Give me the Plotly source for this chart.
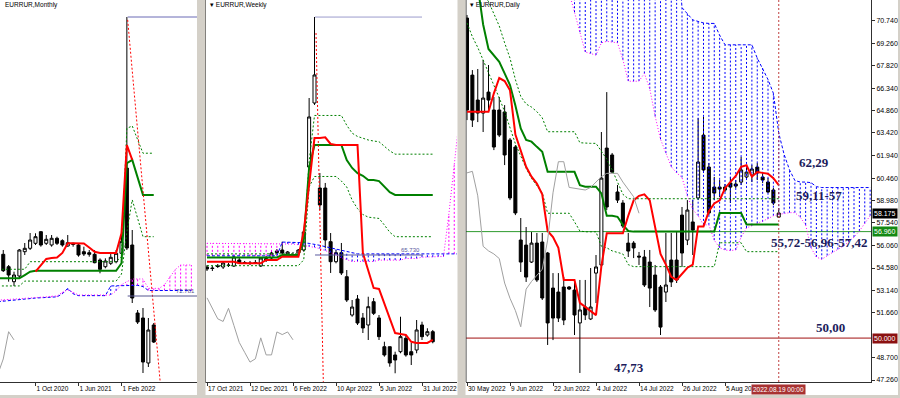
import plotly.graph_objects as go

# ======================= DATA =======================
# ---------- Monthly (bar index 0 = Feb 2020) ----------
m_idx = list(range(2, 31))
m_open = [86.54, 82.45, 77.50, 79.38, 87.40, 88.52, 90.17, 94.00, 90.17, 89.61, 91.82, 91.03, 89.28, 90.17, 89.61,
          87.40, 87.07, 86.54, 84.66, 82.45, 83.57, 84.10, 86.87, 115.0, 89.61, 67.17, 65.52, 50.67, 63.21]
m_high = [87.96, 83.01, 80.80, 88.29, 90.27, 93.57, 93.47, 94.23, 92.90, 92.90, 92.35, 91.49, 92.90, 90.37, 90.17,
          89.05, 87.96, 87.96, 85.22, 85.22, 86.64, 87.96, 94.00, 164.85, 94.56, 68.16, 68.82, 65.52, 63.87]
m_low = [80.70, 77.50, 76.08, 78.72, 86.31, 87.96, 89.61, 89.05, 89.61, 89.05, 89.61, 89.05, 89.05, 89.05, 85.75,
         85.98, 85.75, 83.57, 80.27, 81.92, 83.01, 83.57, 85.22, 87.96, 70.47, 63.54, 47.37, 49.35, 57.27]
m_close = [81.13, 79.71, 79.71, 87.96, 88.52, 91.26, 92.35, 89.61, 91.49, 91.82, 90.17, 89.61, 90.37, 89.84, 86.31,
           86.64, 86.54, 83.77, 81.59, 84.33, 85.55, 86.87, 90.70, 88.62, 72.12, 64.20, 51.00, 61.56, 57.60]
m_tenkan_idx = list(range(8, 27))
m_tenkan = [80.8, 83.0, 85.0, 85.3, 85.5, 87.0, 90.2, 90.2, 90.2, 90.1, 88.8, 87.4, 87.0, 87.0, 86.9, 87.0, 93.5,
            122.6, 117.7]
m_line_idx = list(range(1, 31))
m_kijun = [78.6, 78.6, 78.6, 78.6, 78.6, 79.7, 80.8, 81.1, 81.1, 81.1, 81.1, 81.1, 81.1, 81.1, 81.1, 81.1, 81.1,
           81.1, 81.1, 81.1, 81.1, 81.1, 81.1, 83.6, 116.6, 117.7, 112.0, 106.1, 106.1, 106.1]
m_dot_up = [81.6, 81.6, 81.6, 81.6, 81.6, 81.6, 84.1, 84.1, 84.1, 84.1, 84.1, 84.1, 84.1, 84.1, 84.1, 84.1, 84.1,
            84.1, 84.1, 84.1, 84.1, 84.1, 84.1, 85.8, 128.1, 128.9, 124.4, 119.9, 119.9, 119.9]
m_dot_dn = [76.1, 76.1, 76.1, 76.1, 76.1, 77.7, 77.7, 77.7, 77.7, 77.7, 77.7, 77.7, 77.7, 77.7, 77.7, 77.7, 77.7,
            77.7, 77.7, 77.7, 77.7, 77.7, 77.7, 80.0, 94.0, 104.5, 98.4, 92.35, 92.35, 92.35]
m_chikou_idx = [1, 2, 3, 4]
m_chikou = [47.0, 52.0, 61.0, 58.3]
m_cloud_idx = list(range(1, 38))
m_span_blue = [70.9, 71.1, 71.3, 71.5, 71.7, 71.9, 72.0, 72.1, 72.2, 72.3, 72.4, 72.5, 73.5, 75.3, 73.5, 72.9, 72.9,
               72.9, 72.9, 72.9, 72.9, 76.1, 76.1, 76.1, 76.1, 76.1, 76.3, 75.9, 74.6, 74.6, 74.6, 74.6, 74.6, 74.6,
               74.6, 74.6, 74.6]
m_span_pink = [71.4, 71.5, 71.6, 71.7, 71.8, 71.9, 72.0, 72.1, 72.3, 72.5, 72.7, 72.8, 74.0, 74.8, 74.0, 73.1, 73.1,
               73.1, 73.1, 73.1, 73.1, 73.1, 74.5, 76.5, 77.5, 78.4, 78.4, 78.4, 75.3, 75.3, 75.3, 76.5, 79.2, 81.5,
               83.0, 83.0, 83.0]
m_extreme_start, m_extreme = 25.15, 164.85
m_level_start, m_level = 25.15, 72.781
m_trend_x = [25.15, 31.2]
m_trend_y = [163.9, 44.4]
m_tick_vals = [8, 16, 24]
m_tick_text = ["1 Oct 2020", "1 Jun 2021", "1 Feb 2022"]
m_first_tick = (0, "1 Feb 2020")

# ---------- Weekly (bar index 0 = 17 Oct 2021) ----------
w_idx = list(range(0, 43))
w_open = [63.90, 63.75, 64.05, 63.90, 64.21, 64.05, 64.97, 64.59, 64.51, 64.59, 64.05, 64.89, 65.27, 66.34, 66.49,
          65.88, 65.73, 66.03, 66.49, 79.14, 88.90, 75.94, 75.94, 67.76, 64.71, 66.08, 62.42, 56.58, 59.02, 56.13,
          55.06, 58.61, 56.13, 51.75, 51.75, 50.49, 50.99, 53.03, 50.99, 51.25, 55.06, 53.53, 54.04]
w_high = [64.21, 64.05, 64.36, 64.66, 64.51, 65.58, 65.27, 64.82, 64.82, 64.97, 65.43, 65.58, 66.34, 66.64, 67.76,
          66.34, 66.19, 66.64, 69.28, 89.66, 102.01, 78.23, 76.71, 69.08, 66.49, 67.56, 63.44, 58.87, 59.63, 56.89,
          59.37, 59.17, 56.58, 52.51, 51.75, 50.99, 56.32, 53.53, 52.32, 55.82, 55.56, 54.56, 54.30]
w_low = [63.29, 63.29, 63.75, 63.60, 63.90, 63.90, 64.36, 64.36, 64.21, 64.36, 63.90, 64.66, 65.12, 65.88, 65.88,
         65.58, 65.43, 65.73, 66.23, 78.69, 88.60, 72.59, 66.80, 62.99, 64.46, 62.68, 58.57, 56.32, 55.06, 53.84,
         52.77, 56.58, 52.77, 50.23, 48.70, 47.70, 50.75, 50.23, 48.96, 50.75, 52.77, 53.28, 52.27]
w_close = [63.60, 63.67, 63.98, 64.51, 64.13, 65.43, 64.51, 64.51, 64.43, 64.51, 65.27, 65.20, 66.03, 66.11, 66.03,
           66.19, 65.65, 66.49, 69.24, 86.77, 93.17, 73.35, 68.02, 64.71, 66.08, 62.99, 58.87, 57.80, 55.36, 54.60,
           57.85, 56.84, 53.28, 50.49, 49.27, 49.72, 53.28, 50.49, 50.49, 54.30, 53.28, 54.04, 52.51]
w_tenkan = [64.71, 64.71, 64.71, 64.71, 64.71, 64.71, 64.46, 64.46, 64.46, 64.46, 64.46, 64.97, 64.97, 64.97, 65.47,
            65.47, 65.47, 65.47, 69.3, 76.1, 83.57, 83.57, 83.67, 82.65, 82.5, 82.5, 82.5, 82.5, 82.5, 66.03, 63.44,
            60.7, 60.55, 58.3, 56.1, 53.84, 53.7, 53.55, 52.5, 52.32, 52.32, 52.32, 52.8]
w_kijun = [65.35, 65.35, 65.35, 65.35, 65.35, 65.35, 65.35, 65.35, 65.35, 65.35, 65.35, 65.35, 65.35, 65.35, 65.73,
           65.73, 65.73, 65.73, 68.0, 79.1, 82.5, 82.5, 82.5, 82.5, 82.5, 82.5, 80.2, 79.0, 78.2, 77.8, 77.16, 77.16,
           77.0, 76.1, 75.3, 74.88, 74.88, 74.88, 74.88, 74.88, 74.88, 74.88, 74.88]
w_dot_up = [65.9, 65.9, 65.9, 65.9, 65.9, 65.9, 65.9, 65.9, 65.9, 65.9, 65.9, 65.9, 65.9, 65.9, 65.9, 65.9, 65.9,
            65.9, 67.0, 80.0, 87.0, 87.0, 87.0, 87.0, 87.0, 87.0, 85.5, 84.3, 83.8, 83.5, 83.26, 83.1, 83.0, 82.3,
            81.6, 81.1, 81.1, 81.1, 81.1, 81.1, 81.1, 81.1, 81.1]
w_dot_dn = [64.1, 64.1, 64.1, 64.1, 64.1, 64.1, 64.1, 64.1, 64.1, 64.1, 64.1, 64.1, 64.1, 64.1, 64.1, 64.1, 64.1,
            64.1, 65.0, 76.1, 77.7, 77.7, 77.7, 77.7, 77.7, 77.0, 76.1, 74.1, 72.8, 71.9, 71.5, 71.4, 71.3, 70.3,
            69.2, 68.52, 68.52, 68.52, 68.52, 68.52, 68.52, 68.52, 68.52]
w_chikou_idx = list(range(0, 17))
w_chikou = [59.2, 57.6, 56.0, 55.6, 57.6, 55.0, 52.4, 50.9, 49.4, 49.9, 53.1, 50.5, 50.5, 54.0, 53.6, 54.0, 52.8]
w_cloud_idx = list(range(0, 48))
w_span_pink = [67.51, 67.51, 67.51, 67.51, 67.51, 67.51, 67.51, 67.51, 67.51, 67.51, 67.51, 67.51, 67.51, 67.51,
               67.51, 67.45, 67.4, 67.3, 67.2, 67.0, 66.9, 66.7, 66.4, 66.1, 65.8, 65.3, 65.0, 64.75, 64.75, 64.75,
               64.75, 64.75, 64.95, 64.95, 64.95, 64.95, 64.95, 65.2, 65.2, 65.2, 65.4, 65.4, 65.4, 65.45, 65.5, 72.0,
               79.5, 87.0]
w_span_blue = [65.6, 65.6, 65.6, 65.6, 65.6, 65.6, 65.6, 65.6, 65.6, 65.6, 65.6, 65.6, 65.6, 65.6, 67.7, 67.7, 67.7,
               67.7, 67.6, 67.5, 67.4, 67.2, 67.0, 66.8, 66.6, 66.4, 66.2, 66.0, 65.9, 65.9, 65.9, 65.9, 65.9, 65.9,
               65.9, 65.9, 65.9, 65.9, 65.9, 65.9, 65.9, 65.9, 65.9, 65.9, 65.9, 65.9, 65.9, 65.9]
w_extreme_start, w_extreme_end, w_extreme = 20.1, 40.0, 102.0
w_level_start, w_level_end, w_level = 20.1, 40.2, 65.73
w_trend_x = [20.28, 21.64]
w_trend_y = [99.57, 46.4]
w_tick_vals = [0, 8, 16, 24, 32, 40]
w_tick_text = ["17 Oct 2021", "12 Dec 2021", "6 Feb 2022", "10 Apr 2022", "5 Jun 2022", "31 Jul 2022"]

# ---------- Daily (bar index 0 = 30 May 2022) ----------
d_idx = list(range(0, 59))
d_open = [70.92, 67.19, 65.56, 64.71, 66.08, 64.91, 64.91, 64.78, 62.95, 62.49, 56.41, 56.08, 54.97, 56.21, 56.28,
          55.56, 53.27, 53.01, 53.34, 53.34, 53.14, 50.99, 52.03, 51.25, 54.25, 54.78, 62.42, 61.97, 59.55, 58.83,
          56.21, 56.21, 55.36, 55.30, 54.97, 54.12, 53.34, 53.01, 55.10, 55.10, 58.04, 56.41, 57.59, 59.16, 63.27,
          61.18, 59.87, 59.87, 59.87, 60.14, 60.07, 60.20, 60.53, 60.66, 61.18, 60.53, 60.20, 59.68, 57.91]
d_high = [71.12, 67.52, 67.59, 68.18, 67.85, 65.76, 65.76, 65.23, 63.08, 62.62, 57.85, 57.26, 56.93, 56.87, 56.87,
          55.63, 54.25, 54.25, 53.99, 53.40, 53.80, 53.80, 53.80, 54.58, 55.43, 63.47, 66.08, 62.10, 60.01, 59.02,
          56.87, 56.34, 55.63, 55.76, 55.76, 54.78, 53.47, 56.87, 56.87, 56.93, 58.57, 59.02, 59.02, 64.38, 64.45,
          61.44, 60.53, 60.33, 60.07, 60.53, 60.33, 61.84, 61.18, 61.31, 61.44, 60.79, 60.46, 59.81, 58.50]
d_low = [64.25, 63.80, 64.12, 63.47, 64.91, 62.29, 63.14, 61.31, 59.02, 58.04, 54.32, 53.67, 54.91, 53.67, 52.49,
         49.55, 49.87, 51.05, 50.85, 53.14, 50.20, 47.72, 51.18, 51.18, 52.29, 54.65, 58.37, 60.79, 58.83, 57.19,
         55.30, 55.23, 54.78, 53.34, 52.03, 51.71, 50.20, 52.36, 53.34, 53.60, 54.65, 56.08, 55.43, 59.02, 60.79,
         58.04, 59.02, 59.22, 59.55, 58.83, 59.81, 60.01, 60.33, 60.20, 60.33, 60.14, 59.48, 58.70, 57.85]
d_close = [64.91, 64.25, 64.71, 65.69, 65.56, 62.49, 63.27, 61.97, 59.16, 58.18, 54.97, 53.99, 56.21, 53.80, 52.62,
           50.99, 51.31, 51.31, 51.18, 53.21, 51.51, 51.84, 51.51, 52.03, 54.65, 60.46, 58.57, 60.85, 59.02, 57.33,
           55.69, 55.89, 55.30, 53.47, 53.27, 51.84, 50.72, 53.47, 53.67, 53.80, 55.56, 58.37, 57.06, 61.51, 60.99,
           58.18, 59.48, 59.74, 59.68, 59.87, 59.94, 60.99, 60.85, 61.05, 60.79, 60.33, 59.55, 58.83, 58.175]
d_tenkan = [64.8, 64.8, 64.8, 64.8, 64.8, 66.0, 67.0, 66.8, 66.2, 63.3, 62.2, 61.2, 60.55, 60.1, 59.4, 57.0, 56.6,
            55.9, 53.8, 53.8, 53.8, 52.3, 52.05, 51.8, 51.5, 54.7, 56.85, 56.85, 56.85, 56.85, 58.0, 59.0, 59.3,
            59.4, 59.0, 57.3, 55.5, 54.8, 54.0, 53.8, 54.2, 54.6, 54.8, 57.3, 57.3, 58.3, 58.8, 59.0, 59.8, 60.2,
            60.6, 61.2, 61.3, 60.55, 60.85, 60.8, 60.75, 60.45, 60.0]
d_kijun = [73.5, 73.0, 73.0, 70.5, 68.9, 68.5, 68.06, 67.3, 66.54, 65.2, 63.7, 62.95, 62.84, 62.5, 62.18, 60.87,
           60.87, 60.87, 60.87, 60.87, 60.87, 60.0, 59.9, 59.9, 59.9, 59.46, 58.0, 58.0, 57.93, 57.4, 57.0, 56.96,
           56.96, 56.96, 56.96, 56.96, 56.96, 56.96, 56.96, 56.96, 56.96, 56.96, 56.96, 56.96, 56.96, 56.96, 56.96,
           58.17, 58.17, 58.17, 58.17, 58.17, 57.42, 57.42, 57.42, 57.42, 57.42, 57.42, 57.42]
d_dot_up = [74.0, 73.5, 73.0, 72.5, 72.0, 71.2, 70.4, 69.3, 68.3, 66.9, 65.8, 65.3, 65.1, 64.8, 64.4, 63.49, 63.49,
            63.49, 63.49, 63.49, 63.49, 62.77, 62.73, 62.73, 62.73, 62.2, 61.7, 61.0, 60.2, 59.4, 59.11, 59.11,
            59.11, 59.11, 59.11, 59.11, 59.11, 59.11, 59.11, 59.11, 59.11, 59.11, 59.11, 59.11, 59.11, 59.11, 59.11,
            59.11, 59.11, 59.11, 59.11, 59.11, 59.11, 59.11, 59.11, 59.11, 59.11, 59.11, 59.11]
d_dot_dn = [70.6, 69.7, 69.0, 68.2, 67.3, 66.5, 65.7, 64.8, 63.7, 62.7, 61.9, 61.1, 60.44, 60.0, 59.5, 58.16, 58.16,
            58.16, 58.16, 58.16, 57.6, 57.0, 56.95, 56.95, 56.95, 56.0, 55.9, 55.7, 55.6, 55.5, 54.8, 54.67, 54.67,
            54.67, 54.67, 54.67, 54.67, 54.67, 54.67, 54.67, 54.67, 54.67, 54.67, 54.67, 54.67, 54.67, 54.67, 56.23,
            56.23, 56.23, 56.23, 56.23, 55.65, 55.65, 55.65, 55.65, 55.65, 55.65, 55.65]
d_chikou_idx = list(range(0, 33))
d_chikou = [60.8, 60.9, 59.3, 56.0, 55.7, 55.5, 55.2, 53.6, 52.6, 51.8, 50.74, 53.2, 53.7, 54.1, 54.5, 56.4, 59.5,
            61.53, 61.53, 59.85, 59.79, 59.7, 59.68, 59.85, 60.2, 60.55, 60.77, 60.77, 60.77, 60.2, 59.7, 59.24, 58.16]
d_cloud_idx = list(range(19, 76))
d_span_pink = [72.6, 71.3, 70.0, 68.7, 68.6, 68.5, 69.3, 69.4, 69.35, 69.3, 68.2, 66.8, 66.78, 66.8, 67.3, 66.3,
               64.5, 63.0, 62.1, 61.2, 60.8, 60.5, 59.3, 58.4, 58.0, 57.4, 57.4, 56.4, 55.9, 55.76, 55.72, 55.76,
               56.6, 57.2, 57.35, 57.5, 57.6, 57.8, 58.0, 58.1, 58.15, 58.2, 58.2, 57.9, 57.4, 55.9, 55.3, 55.15,
               55.4, 55.6, 55.8, 56.0, 56.3, 56.6, 57.0, 57.5, 58.0]
d_span_blue = [76.0, 76.0, 76.0, 76.0, 76.0, 76.0, 76.0, 76.0, 76.0, 76.0, 76.0, 76.0, 76.0, 76.0, 76.0, 76.0, 76.0,
               76.0, 76.0, 76.0, 76.0, 71.6, 71.2, 70.8, 70.7, 70.6, 70.57, 70.57, 69.8, 69.17, 69.17, 69.17, 69.17,
               69.17, 69.17, 68.3, 67.65, 66.9, 66.0, 63.4, 62.0, 61.0, 60.3, 60.2, 60.2, 60.16, 59.9, 59.84, 59.84,
               59.84, 59.84, 59.84, 59.84, 59.84, 59.84, 59.84, 59.84]
d_support_green = 56.96
d_support_red = 50.0
d_last_price = 58.175
d_cursor_idx = 58
d_cursor_label = "2022.08.19 00:00"
d_tick_vals = [0, 8, 16, 24, 32, 40, 48]
d_tick_text = ["30 May 2022", "9 Jun 2022", "22 Jun 2022", "4 Jul 2022", "14 Jul 2022", "26 Jul 2022", "5 Aug 2022"]
d_price_ticks = [70.74, 69.26, 67.82, 66.34, 64.86, 63.42, 61.94, 60.46, 58.98, 57.54, 56.06, 54.58, 53.14,
                 51.66, 48.70, 47.26]
# text labels (label, bar index, price)
d_notes = [("62,29", 64.5, 61.48), ("59,11-57", 65.5, 59.29), ("55,72-56,96-57,42", 65.4, 56.28),
           ("50,00", 67.6, 50.69), ("47,73", 30.05, 48.11)]

# ======================= FIGURE =======================
W, H = 900, 398
PLOT_BOTTOM = 382
SANS = "Liberation Sans"
RED, GREEN, GRAY = "#ff0000", "#008000", "#a0a0a0"
BLUE, PINK = "#0000ff", "#ff00ff"

fig = go.Figure()


def line(xa, ya, x, y, color, width=1, dash="solid"):
    fig.add_trace(go.Scatter(x=x, y=y, mode="lines", xaxis=xa, yaxis=ya, hoverinfo="skip", showlegend=False,
                             line=dict(color=color, width=width, dash=dash)))


def cloud(xa, ya, idx, blue, pink):
    bx, by, px_, py_ = [], [], [], []
    for i, b, p in zip(idx, blue, pink):
        lo, hi = min(b, p), max(b, p)
        if b >= p:
            bx += [i, i, None]; by += [lo, hi, None]
        else:
            px_ += [i, i, None]; py_ += [lo, hi, None]
    line(xa, ya, bx, by, BLUE, 1, "2px,2px")
    line(xa, ya, px_, py_, PINK, 1, "2px,2px")
    line(xa, ya, idx, blue, BLUE, 1, "3px,2px")
    line(xa, ya, idx, pink, PINK, 1, "1px,2px")


def candles(xa, ya, x, o, h, l, c):
    fig.add_trace(go.Candlestick(x=x, open=o, high=h, low=l, close=c, xaxis=xa, yaxis=ya,
                                 increasing=dict(line=dict(color="black", width=1), fillcolor="white"),
                                 decreasing=dict(line=dict(color="black", width=1), fillcolor="black"),
                                 whiskerwidth=0, hoverinfo="skip", showlegend=False))


# Monthly
cloud("x", "y", m_cloud_idx, m_span_blue, m_span_pink)
candles("x", "y", m_idx, m_open, m_high, m_low, m_close)
line("x", "y", m_line_idx, m_dot_up, GREEN, 1, "2px,2px")
line("x", "y", m_line_idx, m_dot_dn, GREEN, 1, "2px,2px")
line("x", "y", m_line_idx, m_kijun, GREEN, 2)
line("x", "y", m_tenkan_idx, m_tenkan, RED, 2)
line("x", "y", m_chikou_idx, m_chikou, GRAY, 1)
line("x", "y", m_trend_x, m_trend_y, RED, 1, "2px,2px")
line("x", "y", [m_extreme_start, 40], [m_extreme, m_extreme], "#6b6bb5", 1)
line("x", "y", [m_level_start, 40], [m_level, m_level], "#55558f", 1)

# Weekly
cloud("x2", "y2", w_cloud_idx, w_span_blue, w_span_pink)
candles("x2", "y2", w_idx, w_open, w_high, w_low, w_close)
line("x2", "y2", w_idx, w_dot_up, GREEN, 1, "2px,2px")
line("x2", "y2", w_idx, w_dot_dn, GREEN, 1, "2px,2px")
line("x2", "y2", w_idx, w_kijun, GREEN, 2)
line("x2", "y2", w_idx, w_tenkan, RED, 2)
line("x2", "y2", w_chikou_idx, w_chikou, GRAY, 1)
line("x2", "y2", w_trend_x, w_trend_y, RED, 1, "2px,2px")
line("x2", "y2", [w_extreme_start, w_extreme_end], [w_extreme, w_extreme], "#9b9bcc", 1)
line("x2", "y2", [w_level_start, w_level_end], [w_level, w_level], "#5a5a9e", 1)

# Daily
cloud("x3", "y3", d_cloud_idx, d_span_blue, d_span_pink)
candles("x3", "y3", d_idx, d_open, d_high, d_low, d_close)
line("x3", "y3", d_idx, d_dot_up, GREEN, 1, "2px,2px")
line("x3", "y3", d_idx, d_dot_dn, GREEN, 1, "2px,2px")
line("x3", "y3", d_idx, d_kijun, GREEN, 2)
line("x3", "y3", d_idx, d_tenkan, RED, 2)
line("x3", "y3", d_chikou_idx, d_chikou, GRAY, 1)

ydom = [(H - PLOT_BOTTOM) / H, 1]
xcommon = dict(showgrid=False, zeroline=False, showline=True, linecolor="#303030", linewidth=1,
               ticks="outside", ticklen=3, tickcolor="#303030", ticklabelposition="outside right",
               tickangle=0, tickfont=dict(family=SANS, size=6.5, color="black"),
               rangeslider=dict(visible=False))
fig.update_layout(
    width=W, height=H, margin=dict(l=0, r=0, t=0, b=0),
    paper_bgcolor="white", plot_bgcolor="white", showlegend=False,
    boxgap=0.2, boxgroupgap=0.3,
    xaxis=dict(domain=[0, 197 / W], range=[1.395, 38.05], tickvals=m_tick_vals, ticktext=m_tick_text,
               anchor="y", **xcommon),
    yaxis=dict(domain=ydom, range=[44.4, 170.46], showticklabels=False, showgrid=False, zeroline=False,
               ticks="", anchor="x"),
    xaxis2=dict(domain=[206 / W, 457 / W], range=[-0.186, 46.51], tickvals=w_tick_vals, ticktext=w_tick_text,
                anchor="y2", **xcommon),
    yaxis2=dict(domain=ydom, range=[46.37, 104.6], showticklabels=False, showgrid=False, zeroline=False,
                ticks="", showline=True, linecolor="#303030", anchor="x2"),
    xaxis3=dict(domain=[466 / W, 871 / W], range=[-0.186, 75.16], tickvals=d_tick_vals, ticktext=d_tick_text,
                anchor="y3", **xcommon),
    yaxis3=dict(domain=ydom, range=[47.13, 72.10], side="right", anchor="x3", showgrid=False, zeroline=False,
                showline=True, linecolor="#303030", ticks="outside", ticklen=3, tickcolor="#303030",
                tickvals=d_price_ticks, ticktext=["%.3f" % v for v in d_price_ticks],
                tickfont=dict(family=SANS, size=7, color="black")),
)

sep = "#d4d0c8"
shapes = [
    dict(type="line", xref="x3 domain", yref="y3", x0=0, x1=1, y0=d_support_green, y1=d_support_green,
         line=dict(color="#2e9a2e", width=1), layer="below"),
    dict(type="line", xref="x3 domain", yref="y3", x0=0, x1=1, y0=d_support_red, y1=d_support_red,
         line=dict(color="#a01010", width=1), layer="below"),
    dict(type="line", xref="x3", yref="paper", x0=d_cursor_idx, x1=d_cursor_idx, y0=ydom[0], y1=1,
         line=dict(color="#c04040", width=1, dash="2px,2px")),
    dict(type="line", xref="paper", yref="paper", x0=466 / W, x1=466 / W, y0=ydom[0], y1=1,
         line=dict(color="#303030", width=1)),
    dict(type="rect", xref="paper", yref="paper", x0=197 / W, x1=205.5 / W, y0=0, y1=1, fillcolor=sep,
         line=dict(width=0)),
    dict(type="rect", xref="paper", yref="paper", x0=457.5 / W, x1=465.5 / W, y0=0, y1=1, fillcolor=sep,
         line=dict(width=0)),
    dict(type="rect", xref="paper", yref="paper", x0=0, x1=1, y0=0, y1=3 / H, fillcolor=sep, line=dict(width=0)),
    dict(type="rect", xref="paper", yref="paper", x0=898 / W, x1=1, y0=0, y1=1, fillcolor=sep,
         line=dict(width=0)),
]
fig.update_layout(shapes=shapes)

ann = []
title_y = (H - 5) / H
ann.append(dict(text="EURRUR,Monthly", xref="paper", yref="paper", x=3 / W, y=title_y, xanchor="left",
                yanchor="middle", showarrow=False, font=dict(family=SANS, size=6.5, color="black")))
ann.append(dict(text="▾ EURRUR,Weekly", xref="paper", yref="paper", x=208 / W, y=title_y, xanchor="left",
                yanchor="middle", showarrow=False, font=dict(family=SANS, size=6.5, color="black")))
ann.append(dict(text="▾ EURRUR,Daily", xref="paper", yref="paper", x=468 / W, y=title_y, xanchor="left",
                yanchor="middle", showarrow=False, font=dict(family=SANS, size=6.5, color="black")))
ann.append(dict(text=m_first_tick[1], xref="x", yref="paper", x=m_first_tick[0], y=(H - 389) / H,
                xanchor="left", yanchor="middle", xshift=1, showarrow=False,
                font=dict(family=SANS, size=6.5, color="black")))
ann.append(dict(text="%.3f" % m_level, xref="paper", yref="y", x=196.5 / W, y=m_level, xanchor="right",
                yanchor="bottom", showarrow=False, font=dict(family=SANS, size=6, color="#55558f")))
ann.append(dict(text="%.3f" % w_level, xref="paper", yref="y2", x=422 / W, y=w_level, xanchor="right",
                yanchor="bottom", showarrow=False, font=dict(family=SANS, size=6, color="#5a5a9e")))
for val, bg in [(d_last_price, "#000000"), (d_support_green, "#138a13"), (d_support_red, "#8b1010")]:
    ann.append(dict(text="%.3f" % val, xref="paper", yref="y3", x=872 / W, y=val, xanchor="left",
                    yanchor="middle", showarrow=False, bgcolor=bg, borderpad=1,
                    font=dict(family=SANS, size=7, color="white")))
ann.append(dict(text=d_cursor_label, xref="x3", yref="paper", x=d_cursor_idx, y=(H - 389) / H,
                xanchor="center", yanchor="middle", showarrow=False, bgcolor="#a83232", borderpad=1,
                font=dict(family=SANS, size=6.5, color="white")))
for txt, xi, yv in d_notes:
    ann.append(dict(text="<b>%s</b>" % txt, xref="x3", yref="y3", x=xi, y=yv, xanchor="center",
                    yanchor="middle", showarrow=False,
                    font=dict(family="Liberation Serif", size=13, color="#1c1c5c")))
fig.update_layout(annotations=ann)

fig.write_html("out.html", config={"displayModeBar": False},
               post_script="document.body.style.margin='0';document.body.style.overflow='hidden';")
